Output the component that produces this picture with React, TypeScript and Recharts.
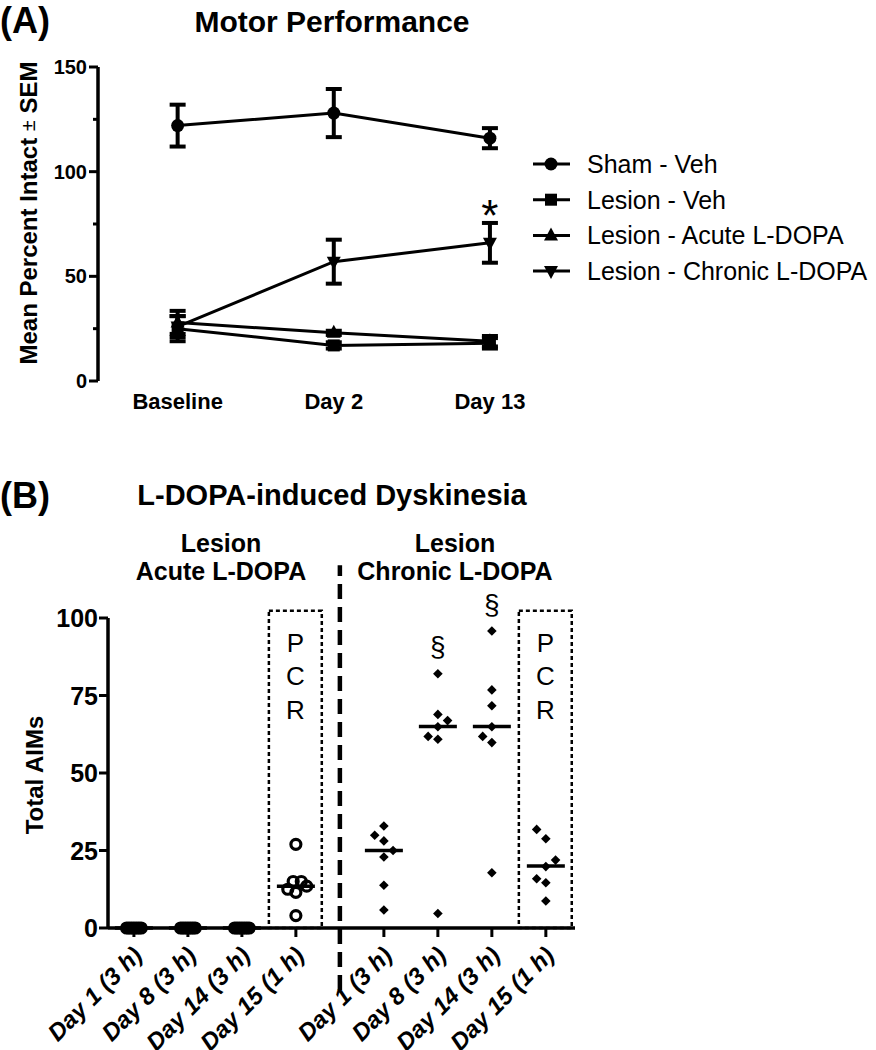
import React from 'react';
import {
  LineChart,
  Line,
  XAxis,
  YAxis,
  ErrorBar,
  LabelList,
  Legend,
  ScatterChart,
  Scatter,
  ReferenceArea,
  ReferenceLine,
} from 'recharts';

const FONT = '"Liberation Sans", Arial, Helvetica, sans-serif';

// ---------------- Panel A: Motor Performance ----------------
const timepoints = ['Baseline', 'Day 2', 'Day 13'];
const shamVeh = [122, 128, 116];
const shamVehSem = [10, 11.5, 4.8];
const lesionVeh = [25, 17, 18];
const lesionVehSem = [6, 1.5, 2.5];
const lesionAcute = [28, 23, 19];
const lesionAcuteSem = [5.5, 1, 2.5];
const lesionChronic = [26, 57, 66];
const lesionChronicSem = [5, 10.5, 9.5];
const motorSignificance = ['', '', '*'];
const motorYTicks = [0, 25, 50, 75, 100, 125, 150];

// ---------------- Panel B: L-DOPA-induced Dyskinesia ----------------
const aimsCategories = [
  'Day 1 (3 h)',
  'Day 8 (3 h)',
  'Day 14 (3 h)',
  'Day 15 (1 h)',
  'Day 1 (3 h)',
  'Day 8 (3 h)',
  'Day 14 (3 h)',
  'Day 15 (1 h)',
];
const aimsCategoryX = [1, 2, 3, 4, 5.63, 6.63, 7.63, 8.63];
const acuteAims = [
  [0, 0, 0, 0, 0, 0, 0],
  [0, 0, 0, 0, 0, 0, 0],
  [0, 0, 0, 0, 0, 0, 0],
  [27, 15, 15, 13.5, 12.5, 11.5, 4],
];
const acuteJitter = [
  [-0.135, -0.09, -0.045, 0, 0.045, 0.09, 0.135],
  [-0.135, -0.09, -0.045, 0, 0.045, 0.09, 0.135],
  [-0.135, -0.09, -0.045, 0, 0.045, 0.09, 0.135],
  [0, -0.05, 0.1, 0.2, -0.15, 0, 0],
];
const chronicAims = [
  [32.9, 29.9, 28.1, 25, 22.9, 13.8, 5.8],
  [82, 68.9, 66.9, 64.9, 61.8, 60.9, 4.7],
  [95.8, 76.8, 71.7, 64.9, 61.8, 59.8, 17.8],
  [31.8, 28.8, 21.9, 19.8, 15.9, 14.6, 8.7],
];
const chronicJitter = [
  [0, -0.17, 0, 0.17, 0, 0, 0],
  [0, 0, 0.18, 0, -0.18, 0, 0],
  [0, 0, 0, 0, -0.17, 0, 0],
  [-0.17, 0, 0.18, 0, -0.17, 0, 0],
];
const aimsMedians = [0, 0, 0, 13.5, 25, 65, 65, 20];
const aimsSignificance = ['', '', '', '', '', '§', '§', ''];
const pcrGroupIndex = [3, 7];
const aimsYTicks = [0, 25, 50, 75, 100];
const groupHeaders = [
  ['Lesion', 'Acute L-DOPA'],
  ['Lesion', 'Chronic L-DOPA'],
];

// ---------------- derived tables ----------------
const motorSeries = [
  { key: 'sham', name: 'Sham - Veh', marker: 'circle', values: shamVeh, sem: shamVehSem },
  { key: 'lesVeh', name: 'Lesion - Veh', marker: 'square', values: lesionVeh, sem: lesionVehSem },
  { key: 'acute', name: 'Lesion - Acute L-DOPA', marker: 'triangle', values: lesionAcute, sem: lesionAcuteSem },
  { key: 'chronic', name: 'Lesion - Chronic L-DOPA', marker: 'triangleDown', values: lesionChronic, sem: lesionChronicSem },
];

const motorData = timepoints.map((t, i) => {
  const row: any = { idx: i, label: t, sig: motorSignificance[i] };
  motorSeries.forEach((s) => {
    row[s.key] = s.values[i];
    row[s.key + 'Err'] = s.sem[i];
  });
  return row;
});

const acutePoints = acuteAims.flatMap((vals, g) =>
  vals.map((v, j) => ({ x: aimsCategoryX[g] + acuteJitter[g][j], y: v }))
);
const chronicPoints = chronicAims.flatMap((vals, g) =>
  vals.map((v, j) => ({ x: aimsCategoryX[g + 4] + chronicJitter[g][j], y: v }))
);
const medianPoints = aimsMedians.map((m, i) => ({ x: aimsCategoryX[i], y: m }));
const allGroups = [...acuteAims, ...chronicAims];
const annotationPoints = aimsSignificance
  .map((s, i) => ({ x: aimsCategoryX[i], y: Math.max(...allGroups[i]), label: s }))
  .filter((p) => p.label);

// ---------------- shapes ----------------
function Marker({ type, cx, cy }: { type: string; cx: number; cy: number }) {
  if (type === 'circle') return <circle cx={cx} cy={cy} r={6.5} fill="#000" />;
  if (type === 'square') return <rect x={cx - 6} y={cy - 6} width={12} height={12} fill="#000" />;
  if (type === 'triangle')
    return <polygon points={`${cx},${cy - 8} ${cx + 7},${cy + 5} ${cx - 7},${cy + 5}`} fill="#000" />;
  return <polygon points={`${cx},${cy + 8} ${cx + 7},${cy - 5} ${cx - 7},${cy - 5}`} fill="#000" />;
}

const MotorYTick = (props: any) => {
  const { x, y, payload } = props;
  const major = payload.value % 50 === 0;
  return (
    <g>
      <line x1={x - (major ? 9 : 5)} y1={y} x2={x} y2={y} stroke="#000" strokeWidth={3} />
      {major && (
        <text x={x - 11} y={y} textAnchor="end" dominantBaseline="central" fontFamily={FONT} fontWeight="bold" fontSize={20} fill="#000">
          {payload.value}
        </text>
      )}
    </g>
  );
};

const AimsYTick = (props: any) => {
  const { x, y, payload } = props;
  return (
    <g>
      <line x1={x - 9} y1={y} x2={x} y2={y} stroke="#000" strokeWidth={3} />
      <text x={x - 10} y={y} textAnchor="end" dominantBaseline="central" fontFamily={FONT} fontWeight="bold" fontSize={25} fill="#000">
        {payload.value}
      </text>
    </g>
  );
};

const AimsXTick = (props: any) => {
  const { x, y, payload } = props;
  const i = aimsCategoryX.indexOf(payload.value);
  const label = i >= 0 ? aimsCategories[i] : '';
  const ax = x - 3;
  const ay = y + 7;
  return (
    <text
      x={ax}
      y={ay}
      dy="0.75em"
      transform={`rotate(-45, ${ax}, ${ay})`}
      textAnchor="end"
      fontFamily={FONT}
      fontWeight="bold"
      fontStyle="italic"
      fontSize={24}
      fill="#000"
    >
      {label}
    </text>
  );
};

const renderMotorLegend = () => (
  <svg width={356} height={160} style={{ display: 'block', overflow: 'visible' }}>
    {motorSeries.map((s, i) => {
      const cy = 24 + i * 35.7;
      return (
        <g key={s.key}>
          <line x1={13} x2={50} y1={cy} y2={cy} stroke="#000" strokeWidth={3} />
          <Marker type={s.marker} cx={31} cy={cy} />
          <text x={67} y={cy} dominantBaseline="central" fontFamily={FONT} fontSize={25} fill="#000">
            {s.name}
          </text>
        </g>
      );
    })}
  </svg>
);

const renderStar = (props: any) => {
  const { x, y, value, index } = props;
  if (!value) return null;
  return (
    <text key={`star-${index}`} x={x} y={y - 12} textAnchor="middle" fontFamily={FONT} fontSize={44} fill="#000">
      {value}
    </text>
  );
};

const renderPcr = (props: any) => {
  const vb = props.viewBox || {};
  const cx = vb.x + vb.width / 2;
  return (
    <text textAnchor="middle" fontFamily={FONT} fontSize={26} fill="#000">
      {'PCR'.split('').map((ch, i) => (
        <tspan key={i} x={cx} y={vb.y + 41 + i * 33.4}>
          {ch}
        </tspan>
      ))}
    </text>
  );
};

const OpenCircle = (p: any) => <circle cx={p.cx} cy={p.cy} r={5} fill="none" stroke="#000" strokeWidth={3.2} />;
const Diamond = (p: any) => (
  <polygon
    points={`${p.cx},${p.cy - 4.8} ${p.cx + 4.8},${p.cy} ${p.cx},${p.cy + 4.8} ${p.cx - 4.8},${p.cy}`}
    fill="#000"
  />
);
const MedianBar = (p: any) => (
  <line x1={p.cx - 19} x2={p.cx + 19} y1={p.cy} y2={p.cy} stroke="#000" strokeWidth={3.5} />
);
const Annotation = (p: any) => (
  <text
    x={p.cx}
    y={p.cy - 27}
    textAnchor="middle"
    dominantBaseline="central"
    fontFamily={FONT}
    fontSize={28}
    fill="#000"
  >
    {p.payload?.label ?? p.label}
  </text>
);

const axisStroke = { stroke: '#000', strokeWidth: 3.5 };

export default function App() {
  const dividerX = (aimsCategoryX[3] + aimsCategoryX[4]) / 2;
  return (
    <div style={{ position: 'absolute', left: 0, top: 0, width: 876, height: 1050, background: '#fff', overflow: 'hidden' }}>
      <div style={{ position: 'absolute', left: 0, top: 0 }}>
        <LineChart width={876} height={440} data={motorData} margin={{ top: 67, right: 308, bottom: 29, left: 0 }}>
          <XAxis
            type="number"
            dataKey="idx"
            domain={[-0.51, 2.5]}
            ticks={[0, 1, 2]}
            interval={0}
            axisLine={false}
            tickLine={false}
            tickMargin={6}
            height={30}
            tickFormatter={(v: number) => timepoints[v] ?? ''}
            tick={{ fill: '#000', fontSize: 22, fontWeight: 'bold', fontFamily: FONT }}
          />
          <YAxis
            type="number"
            domain={[0, 150]}
            ticks={motorYTicks}
            interval={0}
            width={98}
            axisLine={axisStroke}
            tickLine={false}
            tickSize={0}
            tickMargin={0}
            tick={<MotorYTick />}
          />
          <Legend
            layout="vertical"
            align="center"
            verticalAlign="middle"
            wrapperStyle={{ left: 520, top: 140, width: 356, height: 160 }}
            content={renderMotorLegend}
          />
          {motorSeries.map((s) => (
            <Line
              key={s.key}
              dataKey={s.key}
              name={s.name}
              stroke="#000"
              strokeWidth={3}
              isAnimationActive={false}
              activeDot={false}
              dot={(p: any) => <Marker key={`${s.key}-${p.index}`} type={s.marker} cx={p.cx} cy={p.cy} />}
            >
              <ErrorBar dataKey={s.key + 'Err'} direction="y" width={8} strokeWidth={4} stroke="#000" isAnimationActive={false} />
              {s.key === 'chronic' && <LabelList dataKey="sig" content={renderStar} />}
            </Line>
          ))}
        </LineChart>
      </div>

      <div style={{ position: 'absolute', left: 0, top: 460 }}>
        <ScatterChart width={876} height={590} margin={{ top: 158, right: 301, bottom: 12, left: 0 }}>
          <XAxis
            type="number"
            dataKey="x"
            domain={[0.52, 9.17]}
            ticks={aimsCategoryX}
            interval={0}
            axisLine={axisStroke}
            tickLine={{ stroke: '#000', strokeWidth: 3 }}
            tickSize={9}
            tickMargin={0}
            height={110}
            tick={<AimsXTick />}
          />
          <YAxis
            type="number"
            dataKey="y"
            domain={[0, 100]}
            ticks={aimsYTicks}
            interval={0}
            width={108}
            axisLine={axisStroke}
            tickLine={false}
            tickSize={0}
            tickMargin={0}
            tick={<AimsYTick />}
          />
          {pcrGroupIndex.map((g) => (
            <ReferenceArea
              key={`pcr-${g}`}
              x1={aimsCategoryX[g] - 0.5}
              x2={aimsCategoryX[g] + 0.48}
              y1={0}
              y2={102.3}
              ifOverflow="visible"
              fill="none"
              stroke="#000"
              strokeWidth={2.5}
              strokeDasharray="4 3"
              label={renderPcr}
            />
          ))}
          <ReferenceLine
            segment={[
              { x: dividerX, y: -20 },
              { x: dividerX, y: 117 },
            ]}
            ifOverflow="visible"
            stroke="#000"
            strokeWidth={4.5}
            strokeDasharray="15 8"
          />
          <Scatter data={acutePoints} shape={OpenCircle} isAnimationActive={false} />
          <Scatter data={chronicPoints} shape={Diamond} isAnimationActive={false} />
          <Scatter data={medianPoints} shape={MedianBar} isAnimationActive={false} />
          <Scatter data={annotationPoints} shape={Annotation} isAnimationActive={false} />
        </ScatterChart>
      </div>

      <svg width={876} height={1050} style={{ position: 'absolute', left: 0, top: 0, pointerEvents: 'none' }}>
        <g fontFamily={FONT} fill="#000">
          <text x={0} y={33} fontSize={36} fontWeight="bold">(A)</text>
          <text x={332} y={32} fontSize={30} fontWeight="bold" textAnchor="middle">Motor Performance</text>
          <text
            x={28}
            y={213}
            fontSize={24}
            fontWeight="bold"
            textAnchor="middle"
            dominantBaseline="central"
            transform="rotate(-90, 28, 213)"
          >
            Mean Percent Intact <tspan fontWeight="normal" fontSize={20}>±</tspan> SEM
          </text>

          <text x={0} y={508} fontSize={36} fontWeight="bold">(B)</text>
          <text x={332} y={505} fontSize={29} fontWeight="bold" textAnchor="middle">L-DOPA-induced Dyskinesia</text>
          {groupHeaders.map((lines, gi) => (
            <text key={gi} x={gi === 0 ? 221 : 455} fontSize={25} fontWeight="bold" textAnchor="middle">
              <tspan x={gi === 0 ? 221 : 455} y={552}>{lines[0]}</tspan>
              <tspan x={gi === 0 ? 221 : 455} y={580}>{lines[1]}</tspan>
            </text>
          ))}
          <text
            x={34}
            y={775}
            fontSize={24}
            fontWeight="bold"
            textAnchor="middle"
            dominantBaseline="central"
            transform="rotate(-90, 34, 775)"
          >
            Total AIMs
          </text>
        </g>
      </svg>
    </div>
  );
}
